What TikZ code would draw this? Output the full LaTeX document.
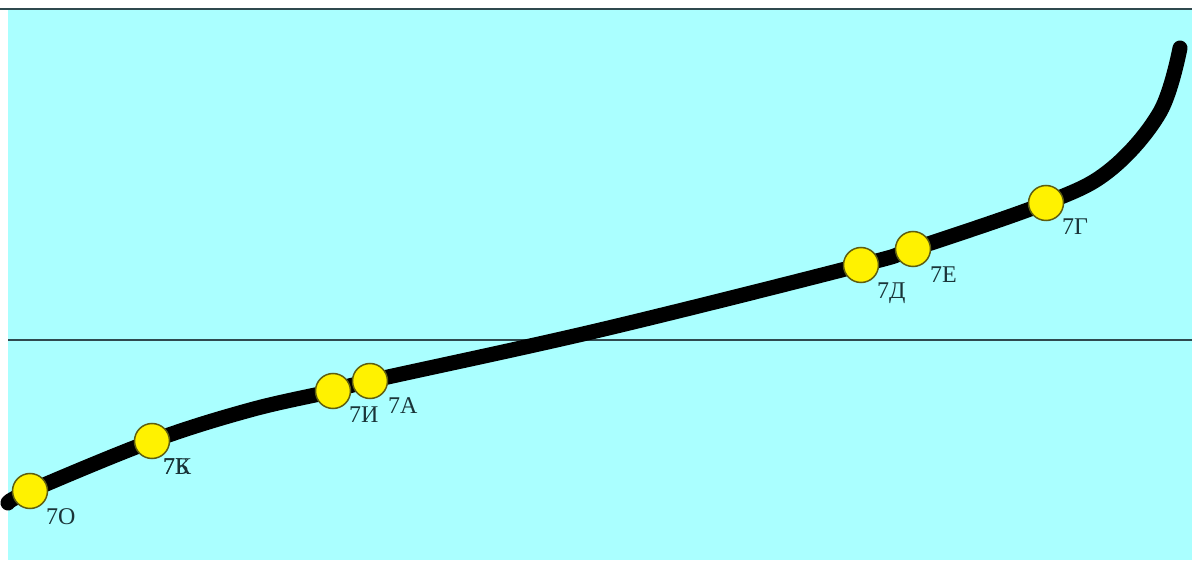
\documentclass[tikz,border=0pt]{standalone}
\usepackage{fontspec}
\setmainfont{Liberation Serif}
\usepackage{xcolor}
\definecolor{trkbg}{HTML}{AAFFFF}
\definecolor{trkrule}{HTML}{2F4A4F}
\definecolor{trkedge}{HTML}{5E5E10}
\definecolor{trktxt}{HTML}{1A3438}
\usepackage{tikz}
\usetikzlibrary{positioning}

\tikzset{
  stn/.style={circle,draw=trkedge,line width=1.5pt,fill=yellow,minimum size=35pt,inner sep=0pt},
  lbl/.style={inner sep=0pt,text=trktxt,font=\fontsize{24}{24}\selectfont},
  track/.style={line width=15pt,line cap=round,line join=round}
}

\begin{document}
\begin{tikzpicture}[x=1pt,y=1pt]
\useasboundingbox (0,0) rectangle (1192,560);
\fill[trkbg] (8,0) rectangle (1192,551);
\draw[trkrule,line width=2pt] (0,551) -- (1192,551);
\draw[trkrule,line width=1.2pt] (8,220) -- (1192,220);

% stations
\coordinate (w0) at (8,57);
\coordinate (w1) at (250,150);
\coordinate (w2) at (600,230);
\coordinate (w3) at (1110,390);
\coordinate (w4) at (1160,448);
\coordinate (w5) at (1180,512);
\coordinate (o) at (30,69);
\coordinate (k) at (152,119);
\coordinate (i) at (333,169);
\coordinate (a) at (370,179);
\coordinate (d) at (861,295);
\coordinate (e) at (913,311);
\coordinate (g) at (1046,357);

\draw[track] plot[smooth,tension=0.6] coordinates {(w0) (o) (k) (w1) (i) (a) (w2) (d) (e) (g) (w3) (w4) (w5)};

\node[stn] (so) at (o) {};
\node[stn] (sk) at (k) {};
\node[stn] (si) at (i) {};
\node[stn] (sa) at (a) {};
\node[stn] (sd) at (d) {};
\node[stn] (se) at (e) {};
\node[stn] (sg) at (g) {};

\node[lbl,below right=5pt and 3pt of so] (lo) {7О};
\node[lbl,below right=5pt and -2pt of sk] (lb) {7Б};
\node[lbl,below right=5pt and -2pt of sk] (lk) {7К};
\node[lbl,below right=3pt and 3pt of si] (li) {7И};
\node[lbl,below right=4pt and 5pt of sa] (la) {7А};
\node[lbl,below right=5pt and 3pt of sd] (ld) {7Д};
\node[lbl,below right=5pt and 4pt of se] (le) {7Е};
\node[lbl,below right=3pt and 3pt of sg] (lg) {7Г};
\end{tikzpicture}
\end{document}
